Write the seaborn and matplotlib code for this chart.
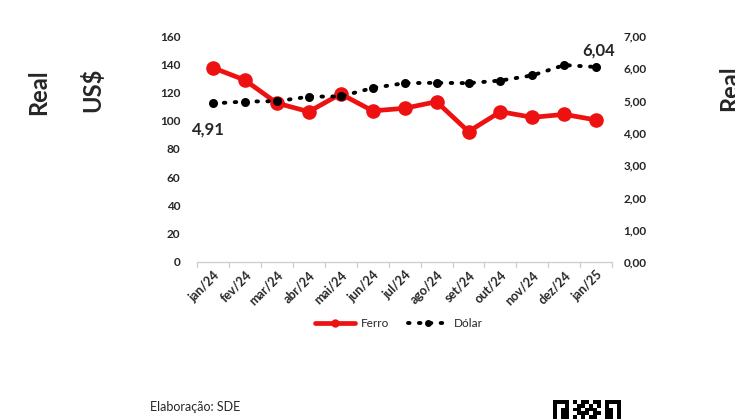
import matplotlib.pyplot as plt
import seaborn as sns
import pandas as pd
import numpy as np
from matplotlib.lines import Line2D

# Data
meses = ['jan/24', 'fev/24', 'mar/24', 'abr/24', 'mai/24', 'jun/24', 'jul/24',
         'ago/24', 'set/24', 'out/24', 'nov/24', 'dez/24', 'jan/25']
ferro = [137.5, 128.8, 112.5, 106.4, 119.0, 107.0, 108.8, 113.5, 92.3, 106.4, 102.4, 104.5, 100.5]
dolar = [4.91, 4.97, 4.98, 5.12, 5.13, 5.39, 5.54, 5.55, 5.54, 5.62, 5.78, 6.10, 6.04]
left_ticks = [0, 20, 40, 60, 80, 100, 120, 140, 160]
right_ticks = [0, 1, 2, 3, 4, 5, 6, 7]

sns.set_style('white')
plt.rcParams['font.family'] = ['Lato', 'DejaVu Sans']

df = pd.DataFrame({'mes': meses, 'pos': np.arange(len(meses)), 'Ferro': ferro, 'Dólar': dolar})

RED = '#ee1111'
DOTS = (0, (0.4, 2.4))

fig = plt.figure(figsize=(7.35, 4.19), dpi=100)
ax = fig.add_axes([0.268, 0.375, 0.565, 0.539])
ax2 = ax.twinx()

sns.lineplot(data=df, x='pos', y='Ferro', ax=ax, color=RED, linewidth=3.4,
             marker='o', markersize=10.5, markeredgewidth=0, legend=False)
sns.lineplot(data=df, x='pos', y='Dólar', ax=ax2, color='black', linewidth=2.8,
             linestyle=DOTS, dash_capstyle='round',
             marker='o', markersize=6.5, markeredgewidth=0, legend=False)

ax.set_xlim(-0.5, len(meses) - 0.5)
ax.set_ylim(0, 160)
ax2.set_ylim(0, 7)
ax.set_yticks(left_ticks)
ax2.set_yticks(right_ticks)
ax.set_yticklabels([str(t) for t in left_ticks], fontsize=8.5, fontweight='bold')
ax2.set_yticklabels([f'{t:.2f}'.replace('.', ',') for t in right_ticks], fontsize=8.5, fontweight='bold')
ax.set_xticks(df['pos'])
ax.set_xticklabels(meses, rotation=45, ha='right', rotation_mode='anchor', fontsize=9, fontweight='bold')
ax.tick_params(axis='x', length=0, pad=5)
ax.tick_params(axis='y', length=0, pad=12)
ax2.tick_params(axis='y', length=0, pad=8)
ax.set_xlabel('')
ax.set_ylabel('')
ax2.set_ylabel('')

# Excel-style category axis: light line with ticks between categories
for a in (ax, ax2):
    for s in ['top', 'left', 'right', 'bottom']:
        a.spines[s].set_visible(False)
ax.axhline(0, color='#d0d0d0', linewidth=1, clip_on=False)
for b in np.arange(-0.5, len(meses), 1.0):
    ax.plot([b, b], [0, -3.5], color='#d0d0d0', linewidth=1, clip_on=False)

# Data labels
ax2.annotate(f'{dolar[0]:.2f}'.replace('.', ','), (0, dolar[0]), xytext=(-15, -22),
             textcoords='offset points', fontsize=12, fontweight='bold')
ax2.annotate(f'{dolar[-1]:.2f}'.replace('.', ','), (len(meses) - 1, dolar[-1]), xytext=(-10, 8),
             textcoords='offset points', fontsize=12, fontweight='bold')

# Axis titles outside the plot (the right one is clipped by the image edge, as in the original)
fig.text(0.052, 0.78, 'Real', rotation=90, ha='center', va='center', fontsize=17, fontweight='bold')
fig.text(0.125, 0.785, 'US$', rotation=90, ha='center', va='center', fontsize=17, fontweight='bold')
fig.text(0.993, 0.79, 'Real', rotation=90, ha='center', va='center', fontsize=17, fontweight='bold')

# Legend with small markers, like the original
handles = [
    Line2D([], [], color=RED, linewidth=3.4, marker='o', markersize=6, markeredgewidth=0),
    Line2D([], [], color='black', linewidth=2.8, linestyle=DOTS, dash_capstyle='round',
           marker='o', markersize=5, markeredgewidth=0),
]
fig.legend(handles, ['Ferro', 'Dólar'], loc='center', bbox_to_anchor=(0.543, 0.228), ncol=2,
           frameon=False, fontsize=8.5, handlelength=3.4, columnspacing=1.6, handletextpad=0.5)

fig.text(0.204, 0.028, 'Elaboração: SDE', fontsize=9, va='center')

# partial QR code at the bottom edge
qr = np.array([
    [1, 1, 1, 1, 0, 1, 0, 1, 1, 0, 1, 1, 0, 1, 1, 1, 1],
    [1, 0, 0, 1, 0, 0, 1, 1, 0, 1, 0, 1, 0, 1, 0, 0, 1],
    [1, 0, 1, 1, 0, 1, 1, 0, 1, 1, 1, 0, 0, 1, 1, 0, 1],
    [1, 0, 1, 1, 0, 0, 1, 1, 1, 0, 1, 1, 0, 1, 1, 0, 1],
    [1, 0, 1, 1, 0, 1, 0, 1, 0, 1, 1, 0, 0, 1, 1, 0, 1],
])
qax = fig.add_axes([0.752, 0.0, 0.092, 0.045])
qax.imshow(qr, cmap='Greys', aspect='auto', interpolation='nearest')
qax.axis('off')

plt.savefig('out.png', dpi=100)
plt.close()
